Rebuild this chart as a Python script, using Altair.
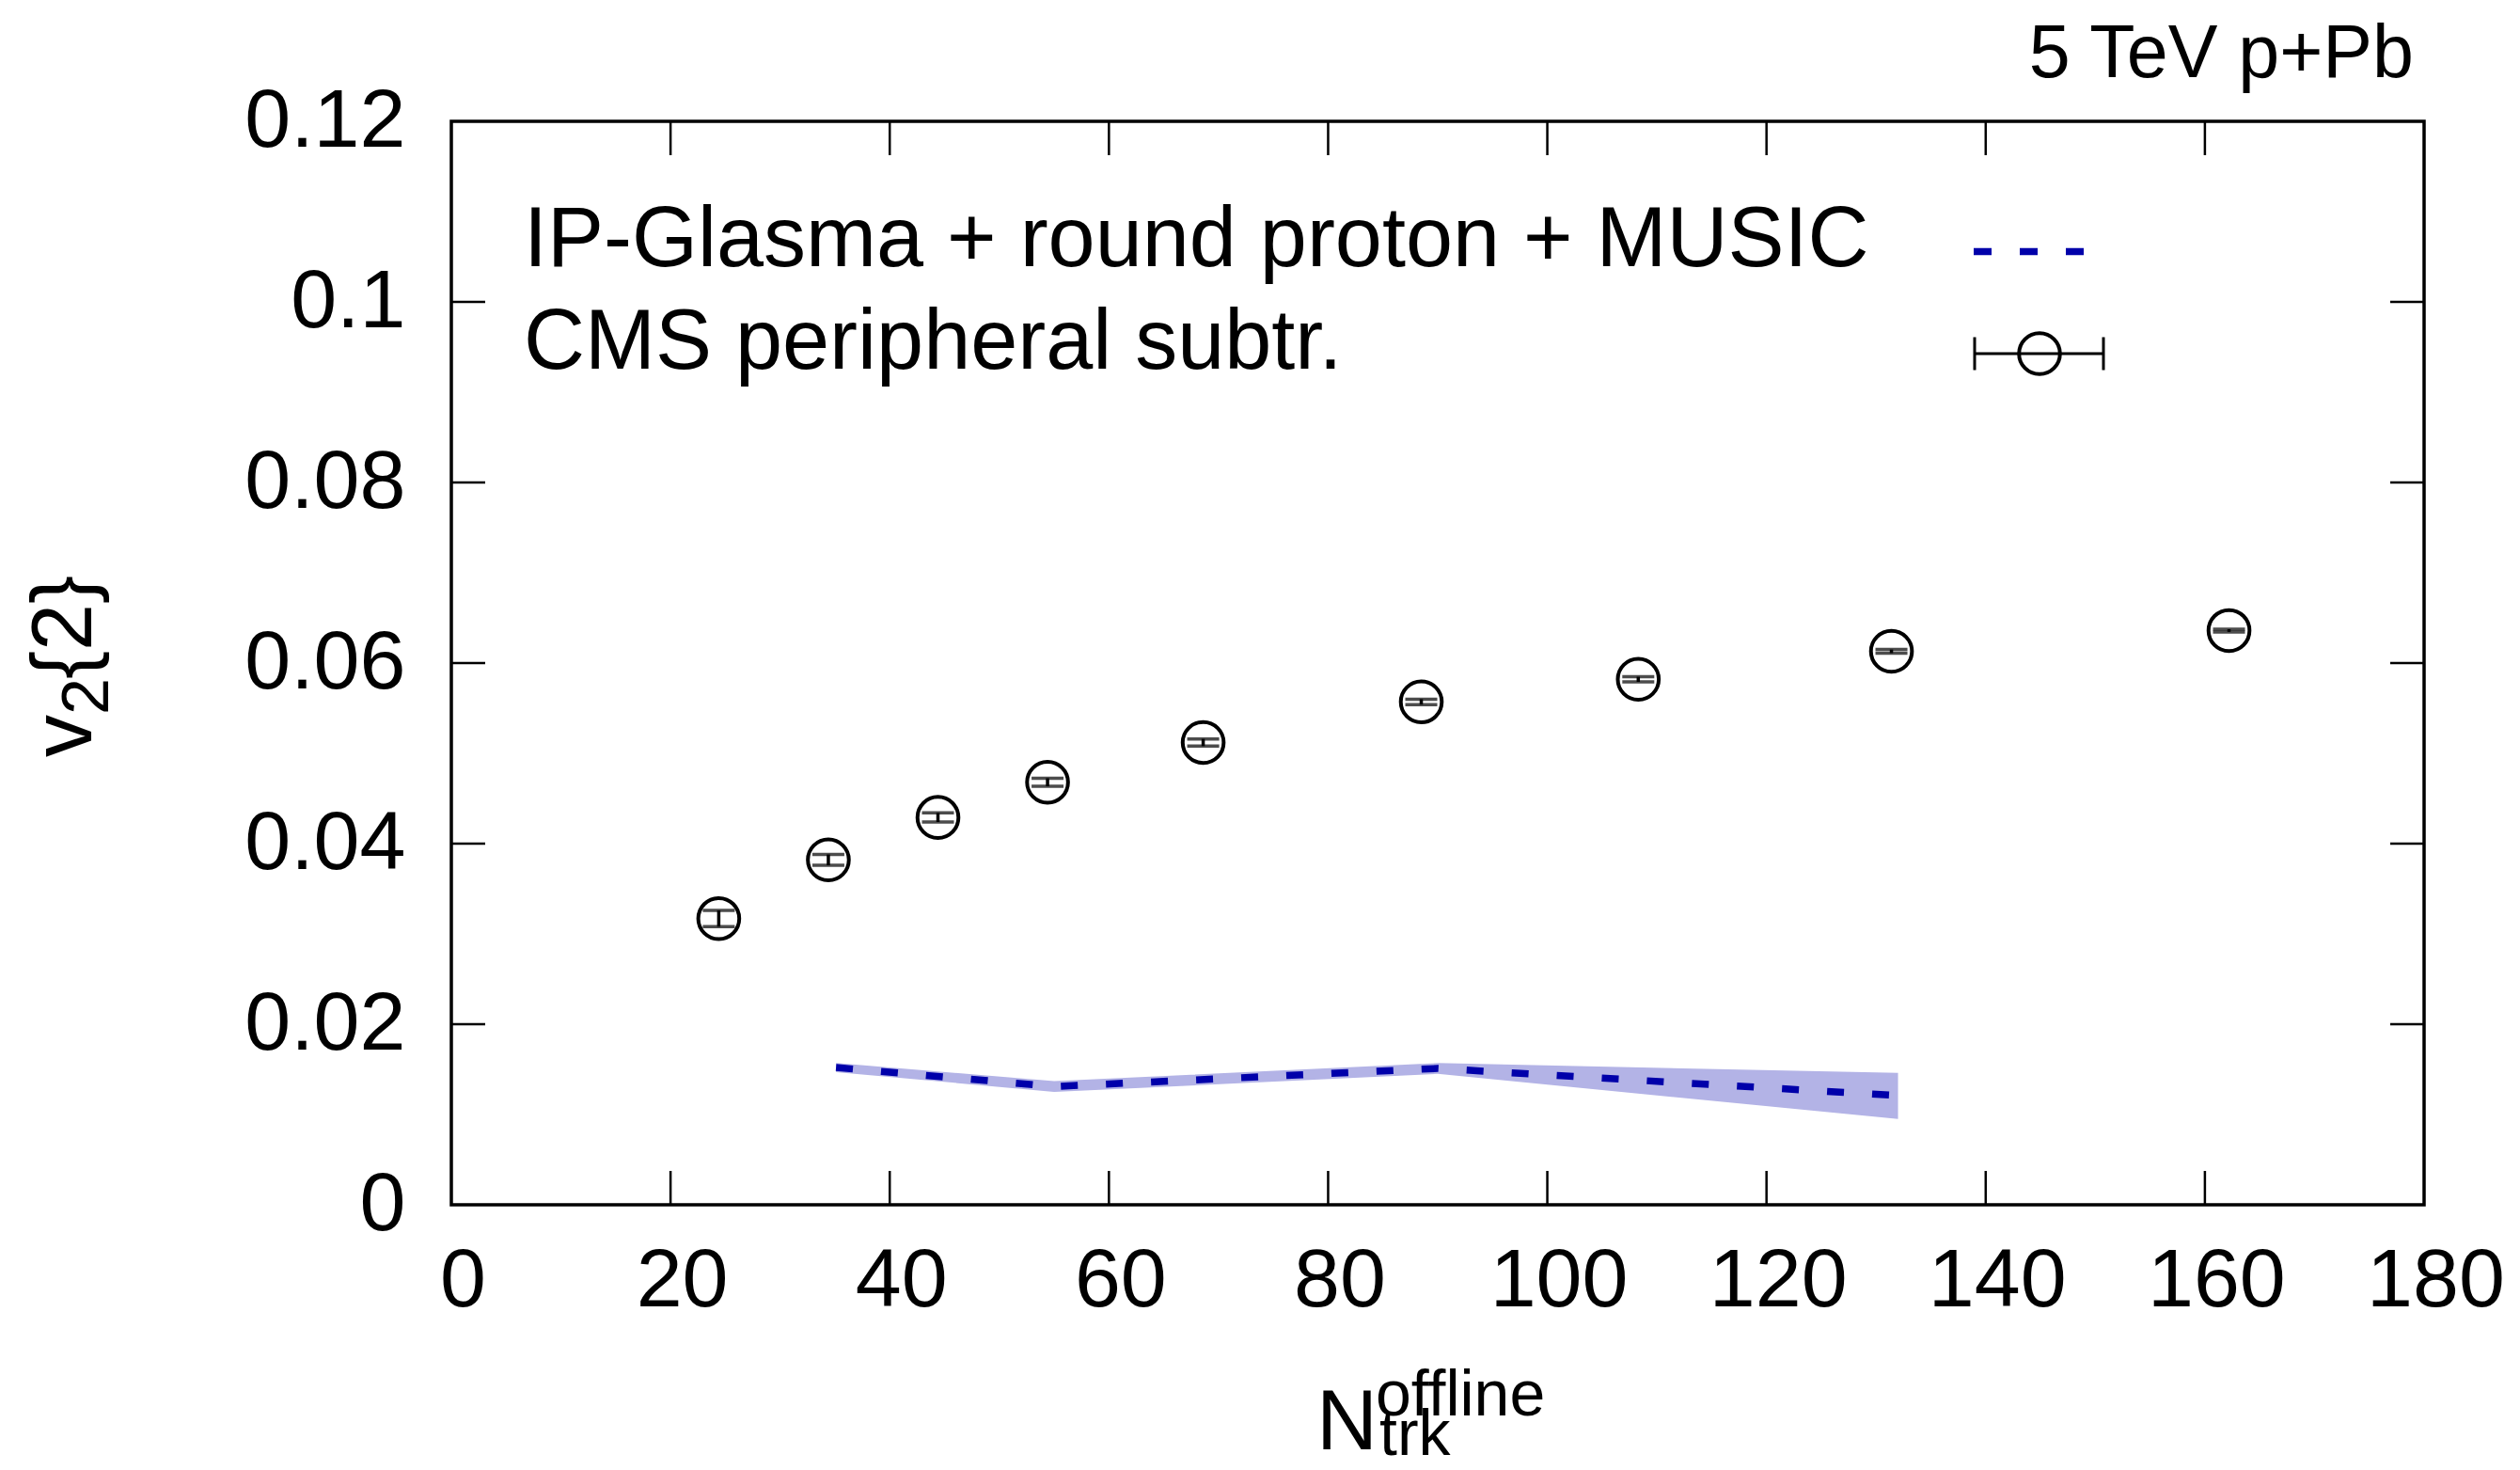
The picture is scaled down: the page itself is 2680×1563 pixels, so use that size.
import altair as alt
import pandas as pd

# ---- data ----
ntrk = [24.4, 34.4, 44.4, 54.4, 68.6, 88.5, 108.3, 131.4, 162.2]
v2 = [0.0317, 0.0382, 0.0429, 0.0468, 0.0512, 0.0557, 0.0582, 0.0613, 0.0636]
v2_err = [0.0009, 0.0006, 0.0005, 0.00045, 0.0004, 0.0003, 0.00028, 0.0002, 0.00015]

model_n = [35.1, 55.0, 90.0, 132.0]
model_v2 = [0.0152, 0.0131, 0.0151, 0.0121]
model_lo = [0.0147, 0.0125, 0.0145, 0.0095]
model_hi = [0.0157, 0.0137, 0.0157, 0.0146]

x_ticks = [0, 20, 40, 60, 80, 100, 120, 140, 160, 180]
y_ticks = [0, 0.02, 0.04, 0.06, 0.08, 0.1, 0.12]
x_inner = [20, 40, 60, 80, 100, 120, 140, 160]
y_inner = [0.02, 0.04, 0.06, 0.08, 0.1]

model_label = "IP-Glasma + round proton + MUSIC"
data_label = "CMS peripheral subtr."
system_label = "5 TeV p+Pb"

W, H = 2098, 1152
FONT = "Liberation Sans"
BLUE = "#0000aa"
BAND = "#b3b3e6"

cms = pd.DataFrame({
    "n": ntrk,
    "v2": v2,
    "lo": [v - e for v, e in zip(v2, v2_err)],
    "hi": [v + e for v, e in zip(v2, v2_err)],
})
model = pd.DataFrame({"n": model_n, "v2": model_v2, "lo": model_lo, "hi": model_hi})
xt = pd.DataFrame({"t": x_inner})
yt = pd.DataFrame({"t": y_inner})

xscale = alt.Scale(domain=[0, 180], nice=False, zero=False)
yscale = alt.Scale(domain=[0, 0.12], nice=False, zero=False)

xaxis = alt.Axis(values=x_ticks, format="d", title=None, grid=False, domain=False,
                 ticks=False, tickSize=0, labelFontSize=88, labelFont=FONT,
                 labelColor="black", labelPadding=37, labelOffset=12,
                 labelFlush=False, labelOverlap=False, labelBound=False)
yaxis = alt.Axis(values=y_ticks, format=".2~f", title=None, grid=False, domain=False,
                 ticks=False, tickSize=0, labelFontSize=88, labelFont=FONT,
                 labelColor="black", labelPadding=49,
                 labelFlush=False, labelOverlap=False, labelBound=False)


def X(field):
    return alt.X(field, type="quantitative", scale=xscale, axis=xaxis)


def Y(field):
    return alt.Y(field, type="quantitative", scale=yscale, axis=yaxis)


layers = []

# model band + dashed line
layers.append(alt.Chart(model).mark_area(color=BAND, opacity=1).encode(
    x=X("n"), y=Y("lo"), y2="hi"))
layers.append(alt.Chart(model).mark_line(color=BLUE, strokeWidth=7.5,
                                         strokeDash=[18, 30], strokeCap="butt").encode(
    x=X("n"), y=Y("v2")))

# CMS error bars and points
layers.append(alt.Chart(cms).mark_rule(color="black", strokeWidth=3.5).encode(
    x=X("n"), y=Y("lo"), y2="hi"))
layers.append(alt.Chart(cms).mark_tick(color="black", orient="horizontal",
                                       size=34, thickness=3.5).encode(x=X("n"), y=Y("lo")))
layers.append(alt.Chart(cms).mark_tick(color="black", orient="horizontal",
                                       size=34, thickness=3.5).encode(x=X("n"), y=Y("hi")))
layers.append(alt.Chart(cms).mark_point(shape="circle", size=1900, filled=False,
                                        color="black", strokeWidth=4, opacity=1).encode(
    x=X("n"), y=Y("v2")))

# inward ticks on all four sides
TL = 36
layers.append(alt.Chart(xt).mark_rule(color="black", strokeWidth=2.5).encode(
    x=X("t"), y=alt.value(H), y2=alt.value(H - TL)))
layers.append(alt.Chart(xt).mark_rule(color="black", strokeWidth=2.5).encode(
    x=X("t"), y=alt.value(0), y2=alt.value(TL)))
layers.append(alt.Chart(yt).mark_rule(color="black", strokeWidth=2.5).encode(
    y=Y("t"), x=alt.value(0), x2=alt.value(TL)))
layers.append(alt.Chart(yt).mark_rule(color="black", strokeWidth=2.5).encode(
    y=Y("t"), x=alt.value(W - TL), x2=alt.value(W)))

one = alt.Data(values=[{}])


def txt(s, x, y, size, align="left", angle=None):
    kw = dict(text=s, font=FONT, fontSize=size, align=align,
              baseline="alphabetic", color="black")
    if angle is not None:
        kw["angle"] = angle
    return alt.Chart(one).mark_text(**kw).encode(x=alt.value(x), y=alt.value(y))


# legend
layers.append(txt(model_label, 77, 154, 90))
layers.append(txt(data_label, 77, 263, 90))
layers.append(alt.Chart(one).mark_rule(color=BLUE, strokeWidth=7.5, strokeDash=[19, 30],
                                       strokeCap="butt").encode(
    x=alt.value(1619), x2=alt.value(1738), y=alt.value(138.5)))
layers.append(alt.Chart(one).mark_rule(color="black", strokeWidth=3).encode(
    x=alt.value(1619), x2=alt.value(1758), y=alt.value(247)))
layers.append(alt.Chart(one).mark_rule(color="black", strokeWidth=3).encode(
    x=alt.value(1620), y=alt.value(229.5), y2=alt.value(264.5)))
layers.append(alt.Chart(one).mark_rule(color="black", strokeWidth=3).encode(
    x=alt.value(1757), y=alt.value(229.5), y2=alt.value(264.5)))
layers.append(alt.Chart(one).mark_point(shape="circle", size=1900, filled=False,
                                        color="black", strokeWidth=4, opacity=1).encode(
    x=alt.value(1689), y=alt.value(247)))

# system label
layers.append(txt(system_label, 2087, -47, 79, align="right"))

# y title: v_2{2}
layers.append(txt("v", -383, 676, 90, angle=270))
layers.append(txt("2", -365, 631, 70, angle=270))
layers.append(txt("{2}", -383, 593, 90, angle=270))

# x title: N_trk^offline
layers.append(txt("N", 920, 1412, 90))
layers.append(txt("offline", 983, 1376, 68))
layers.append(txt("trk", 987, 1418, 68))

chart = alt.layer(*layers).properties(
    width=W, height=H,
    autosize=alt.AutoSizeParams(type="none"),
    padding={"left": 480, "top": 129, "right": 102, "bottom": 282},
    background="white",
).configure_view(stroke="black", strokeWidth=3.5)

chart.save("out.html", embed_options={"renderer": "svg", "actions": False})
